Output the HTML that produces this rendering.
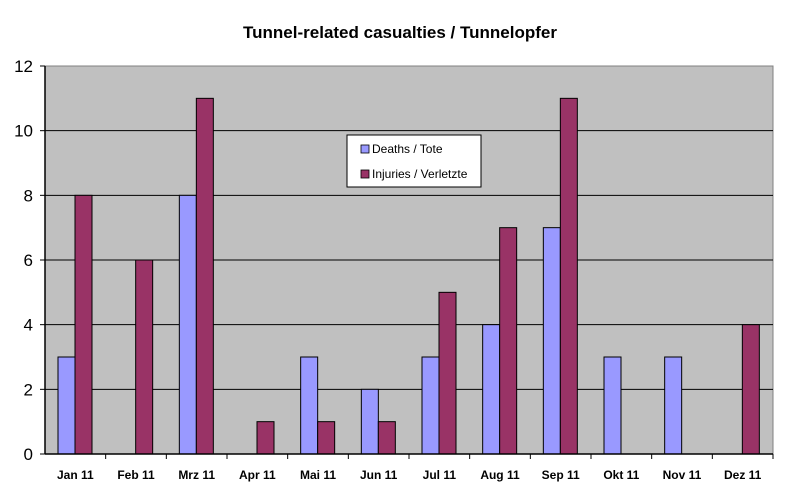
<!DOCTYPE html>
<html><head><meta charset="utf-8"><style>
body{margin:0;background:#fff;}
svg text{font-family:"Liberation Sans",Arial,sans-serif;}
</style></head><body>
<svg id="chart" width="800" height="499" xmlns="http://www.w3.org/2000/svg">
<rect width="800" height="499" fill="#fff"/>
<text x="400" y="38" text-anchor="middle" font-size="17" font-weight="bold">Tunnel-related casualties / Tunnelopfer</text>
<rect x="45" y="66" width="728" height="388" fill="#c0c0c0" stroke="#808080" stroke-width="1"/>
<g id="grid"></g>
<g id="bars"></g>
<g id="axes"></g>
<g>
<rect x="347" y="135" width="134" height="52" fill="#fff" stroke="#000" stroke-width="1"/>
<rect x="361" y="145" width="8" height="8" fill="#9999ff" stroke="#000" stroke-width="0.8"/>
<text x="372" y="153" font-size="12">Deaths / Tote</text>
<rect x="361" y="170" width="8" height="8" fill="#993366" stroke="#000" stroke-width="0.8"/>
<text x="372" y="178" font-size="12">Injuries / Verletzte</text>
</g>
</svg>
<script>
const categories=["Jan 11","Feb 11","Mrz 11","Apr 11","Mai 11","Jun 11","Jul 11","Aug 11","Sep 11","Okt 11","Nov 11","Dez 11"];
const deaths=[3,0,8,0,3,2,3,4,7,3,3,0];
const injuries=[8,6,11,1,1,1,5,7,11,0,0,4];
const yTicks=[0,2,4,6,8,10,12];
const NS="http://www.w3.org/2000/svg";
const X0=45,X1=773,Y0=454,Y1=66,YMAX=12;
const cw=(X1-X0)/categories.length;
function y(v){return Y0-(v/YMAX)*(Y0-Y1);}
function xc(i){return X0+i*cw;}
function mk(tag,attrs,parent){const e=document.createElementNS(NS,tag);for(const k in attrs)e.setAttribute(k,attrs[k]);document.getElementById(parent).appendChild(e);return e;}
yTicks.forEach(t=>{
 if(t>0&&t<YMAX){const l=mk('line',{x1:X0,x2:X1,y1:y(t),y2:y(t),stroke:'#000','stroke-width':1},'grid');
 
 }
 const tk=mk('line',{x1:X0-5,x2:X0,y1:y(t),y2:y(t),stroke:'#000'},'axes');
 
 
 const tx=mk('text',{x:X0-12,y:y(t)+6,'text-anchor':'end','font-size':17},'axes');
 tx.textContent=t;
 
 
});
categories.forEach((c,i)=>{
 const bw=17,off=13;
 if(deaths[i]>0){const b=mk('rect',{x:xc(i)+off,y:y(deaths[i]),width:bw,height:Y0-y(deaths[i]),fill:'#9999ff',stroke:'#000','stroke-width':1},'bars');
 
 }
 if(injuries[i]>0){const b=mk('rect',{x:xc(i)+off+bw,y:y(injuries[i]),width:bw,height:Y0-y(injuries[i]),fill:'#993366',stroke:'#000','stroke-width':1},'bars');
 
 }
 const tk=mk('line',{x1:xc(i+1),x2:xc(i+1),y1:Y0,y2:Y0+5,stroke:'#000'},'axes');
 
 
 const tx=mk('text',{x:xc(i)+cw/2,y:Y0+25,'text-anchor':'middle','font-size':12,'font-weight':'bold'},'axes');
 tx.textContent=c;
 
 
});
const ya=mk('line',{x1:X0,x2:X0,y1:Y1,y2:Y0,stroke:'#000','stroke-width':1.5},'axes');


const xa=mk('line',{x1:X0,x2:X1,y1:Y0,y2:Y0,stroke:'#000','stroke-width':1.5},'axes');


</script>
</body></html>
